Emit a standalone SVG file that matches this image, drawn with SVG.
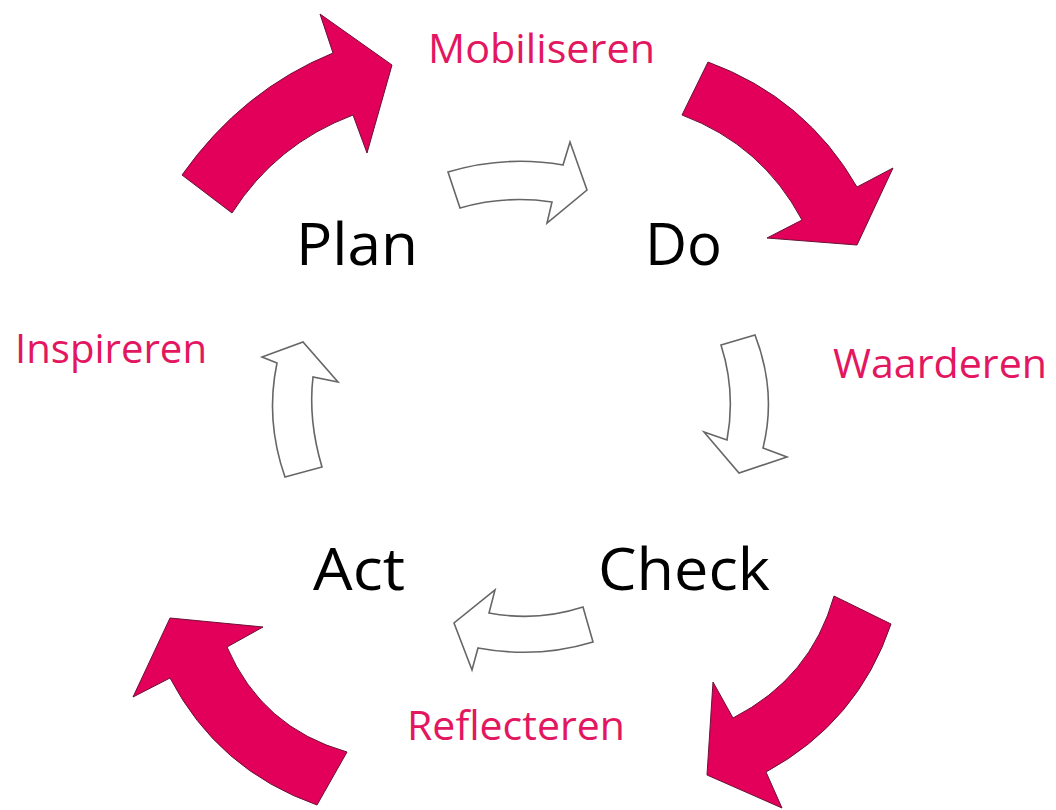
<svg xmlns="http://www.w3.org/2000/svg" width="1056" height="810" viewBox="0 0 1056 810">
<style>
.red{fill:#E2005A;stroke:#6a1235;stroke-width:1;stroke-linejoin:miter}
.wht{fill:#fff;stroke:#666;stroke-width:1.6;stroke-linejoin:miter}
.big{font-family:"Open Sans","Liberation Sans",sans-serif;font-size:58px;fill:#000}
.lbl{font-family:"Open Sans","Liberation Sans",sans-serif;font-size:41px;fill:#E3175F}
</style>
<rect width="1056" height="810" fill="#fff"/>
<g id="connectors">
<path class="red" d="M182,175 L232,213 Q276,144 353,115 L367,153 L392,65 L320,14 L333,53 Q242,90 182,175 Z"/>
<path class="red" d="M708,62 L682,115 Q762,145 802,220 L767,238 L857,245 L893,168 L857,187 Q806,98 708,62 Z"/>
<path class="red" d="M834,596 L891,624 Q858,722 766,772 L782,808 L707,775 L713,682 L733,718 Q811,678 834,596 Z"/>
<path class="red" d="M347,752 L317,805 Q218,770 170,678 L133,697 L170,618 L263,627 L227,647 Q262,728 347,752 Z"/>
<path class="wht" d="M448,172 L460,208 Q505,195 552,202 L547,223 L587,190 L570,142 L563,165 Q505,155 448,172 Z"/>
<path class="wht" d="M721,345 L755,335 Q777,392 763,448 L787,457 L739,473 L704,432 L727,440 Q736,392 721,345 Z"/>
<path class="wht" d="M583,607 L593,642 Q537,659 478,648 L472,670 L454,623 L495,590 L489,613 Q537,622 583,607 Z"/>
<path class="wht" d="M285,477 L322,467 Q308,420 313,377 L338,382 L303,342 L262,357 L277,363 Q265,420 285,477 Z"/>
</g>
<g id="plan"><text class="big" x="296" y="265" textLength="122" lengthAdjust="spacingAndGlyphs">Plan</text></g>
<g id="do"><text class="big" x="645" y="265" textLength="77" lengthAdjust="spacingAndGlyphs">Do</text></g>
<g id="check"><text class="big" x="598" y="590" textLength="172" lengthAdjust="spacingAndGlyphs">Check</text></g>
<g id="act"><text class="big" x="313" y="590" textLength="92" lengthAdjust="spacingAndGlyphs">Act</text></g>
<g id="mobiliseren"><text class="lbl" x="428" y="63" textLength="227" lengthAdjust="spacingAndGlyphs">Mobiliseren</text></g>
<g id="waarderen"><text class="lbl" x="833" y="378" textLength="214" lengthAdjust="spacingAndGlyphs">Waarderen</text></g>
<g id="inspireren"><text class="lbl" x="15" y="363" textLength="192" lengthAdjust="spacingAndGlyphs">Inspireren</text></g>
<g id="reflecteren"><text class="lbl" x="407" y="740" textLength="218" lengthAdjust="spacingAndGlyphs">Reflecteren</text></g>
</svg>
